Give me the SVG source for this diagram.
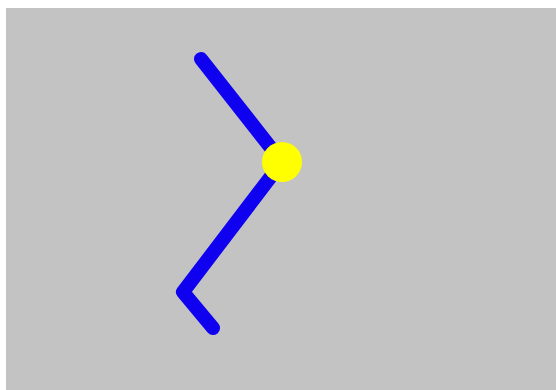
<svg xmlns="http://www.w3.org/2000/svg" width="556" height="390" viewBox="0 0 556 390">
<style>
.bg{fill:#c3c3c3}
.arm{fill:none;stroke:#1000f0;stroke-width:14;stroke-linecap:round;stroke-linejoin:round}
.joint{fill:#ffff00}
</style>
<rect class="bg" x="6" y="8" width="550" height="382"/>
<g id="connectors">
<polyline class="arm" points="201,59 282,162 183,292 213,328"/>
</g>
<g id="joint">
<circle class="joint" cx="282" cy="162" r="20"/>
</g>
</svg>
